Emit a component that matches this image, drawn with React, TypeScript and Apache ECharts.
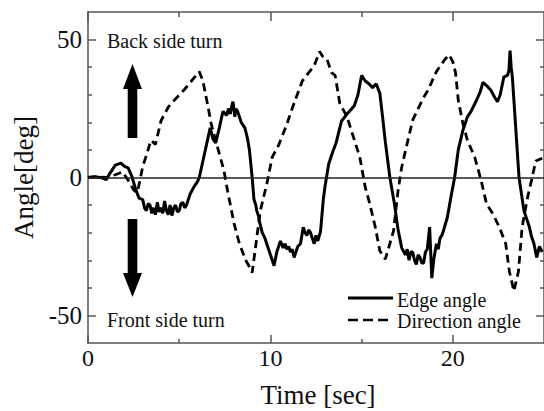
import React, { useEffect, useRef } from "react";
import * as echarts from "echarts";

const xTickLabels = [0, 10, 20];
const xMinorTicks = [5, 15];
const yTickLabels = [-50, 0, 50];
const yMinorTicks = [-40, -30, -20, -10, 10, 20, 30, 40];

const edgeT = [
  0, 0.4, 0.8, 1.0, 1.2, 1.5, 1.8, 2.0, 2.2, 2.4, 2.6, 2.8, 3.0, 3.1, 3.2, 3.3, 3.4, 3.5, 3.6, 3.7,
  3.8, 3.9, 4.0, 4.1, 4.2, 4.3, 4.4, 4.5, 4.6, 4.7, 4.8, 4.9, 5.0, 5.1, 5.2, 5.3, 5.4, 5.6, 5.8, 6.0,
  6.1, 6.3, 6.5, 6.7, 6.85, 7.0, 7.2, 7.4, 7.6, 7.7, 7.8, 7.9, 7.95, 8.05, 8.1, 8.2, 8.3, 8.4, 8.6, 8.75,
  8.85, 9.0, 9.1, 9.2, 9.25, 9.35, 9.4, 9.55, 9.7, 9.8, 9.9, 10.05, 10.2, 10.35, 10.45, 10.55, 10.7, 10.8, 10.9, 11.0,
  11.1, 11.2, 11.3, 11.4, 11.5, 11.65, 11.8, 11.9, 12.0, 12.1, 12.2, 12.3, 12.4, 12.5, 12.6, 12.75, 12.9, 13.0, 13.2, 13.4,
  13.6, 13.9, 14.2, 14.4, 14.6, 14.8, 15.0, 15.2, 15.4, 15.6, 15.8, 16.0, 16.15, 16.3, 16.55, 16.8, 17.0, 17.2, 17.4, 17.5,
  17.6, 17.7, 17.8, 17.9, 18.0, 18.1, 18.2, 18.3, 18.4, 18.5, 18.6, 18.73, 18.85, 18.95, 19.1, 19.2, 19.3, 19.4, 19.5, 19.7,
  19.9, 20.1, 20.3, 20.55, 20.8, 21.0, 21.3, 21.5, 21.65, 21.9, 22.1, 22.3, 22.45, 22.6, 22.8, 23.0, 23.08, 23.14, 23.2, 23.27,
  23.45, 23.63, 23.9, 24.1, 24.2, 24.3, 24.45, 24.6, 24.75, 24.9,
];
const edgeV = [
  0, 0.3, -0.2, -0.8, 1.5, 4.5, 5.2, 4, 3.5, 0.5, -4, -7.5, -8, -11, -12, -9.5, -10, -13, -11, -13.5,
  -9, -12.5, -11, -13, -8.5, -12, -13.5, -10, -13.8, -11, -10, -12.5, -12, -9.5, -9, -11, -10, -6, -3.5, -1.5,
  0, 6, 12, 18, 14, 12.5, 18, 24, 22.5, 25, 23, 26.5, 27.5, 22, 25, 24, 22, 20, 18, 14,
  10, 0, -8, -10, -12, -14, -16, -20, -22, -24, -26, -29, -32, -27, -25, -23, -25.5, -24, -26, -25,
  -27, -26, -29, -27, -25, -24, -18, -20, -21, -19, -20, -22, -24, -21, -23, -19.5, -8, -3, 5, 9,
  12.5, 20.5, 23, 24.5, 26, 30, 37, 35, 34, 32.5, 34, 30.5, 22, 13, 0, -9.5, -19, -25.5, -28, -26,
  -30, -27, -27, -30, -31.5, -28, -29, -31, -31, -27, -26, -18, -36.5, -30, -24, -26, -22, -21, -19, -14.5,
  -7, 0, 10, 17, 22, 24, 28, 31, 34.5, 33, 31.5, 29, 27.5, 30, 36.5, 37, 39, 46, 40, 36,
  18, 0, -12, -16, -18, -21, -24, -29, -25, -27,
];

const dirT = [
  0, 0.5, 1.0, 1.5, 1.9, 2.2, 2.5, 2.7, 2.85, 3.0, 3.2, 3.45, 3.7, 4.0, 4.4, 4.8, 5.3, 5.8, 6.1, 6.3,
  6.45, 6.6, 6.75, 7.1, 7.45, 7.65, 8.0, 8.3, 8.65, 8.9, 9.0, 9.15, 9.45, 9.8, 10.1, 10.45, 10.85, 11.3, 11.75, 12.1,
  12.4, 12.7, 12.85, 13.1, 13.35, 13.55, 13.8, 14.2, 14.55, 14.9, 15.2, 15.45, 15.75, 16.0, 16.3, 16.55, 16.75, 17.0, 17.2, 17.45,
  17.8, 18.1, 18.4, 18.65, 19.1, 19.55, 19.8, 20.0, 20.15, 20.3, 20.55, 20.8, 21.2, 21.55, 21.85, 22.2, 22.55, 22.9, 23.1, 23.35,
  23.6, 23.8, 24.1, 24.35, 24.55, 24.9,
];
const dirV = [
  0, 0.3, 0, 1, 2, -1, -4.5, -5.5, -1, 4, 8, 13.5, 12, 20.5, 25.5, 28.5, 32, 36, 38.4, 35,
  30, 25, 19.5, 11, 2.6, -4.7, -16.5, -24, -30, -33, -34.5, -27, -12, -2.4, 7.4, 11.7, 18.4, 27, 35, 38,
  40.5, 45.7, 44, 43, 38, 37, 27, 22, 14.7, 7.4, -3.5, -9.6, -18, -26.6, -29.6, -24, -19.4, -4.7, 3.8, 11,
  20.8, 25, 29, 31.8, 38.4, 42.7, 44.5, 42, 38, 28, 19.7, 13.5, 7.4, -1, -9.6, -13.2, -18, -24, -34, -41.2,
  -34, -18, -7.2, 0, 6, 7,
];

const SERIF = "Liberation Serif";
const AXIS_COLOR = "#555";

export default function App() {
  const ref = useRef<HTMLDivElement>(null);

  useEffect(() => {
    if (!ref.current) return;
    const chart = echarts.init(ref.current, undefined, { renderer: "svg" });

    const edgeData = edgeT.map((t, i) => [t, edgeV[i]]);
    const dirData = dirT.map((t, i) => [t, dirV[i]]);

    const xBase = { type: "value", min: 0, max: 25, splitLine: { show: false } };
    const yBase = { type: "value", min: -60, max: 60, splitLine: { show: false } };
    const line = { show: true, onZero: false, lineStyle: { color: AXIS_COLOR, width: 1.5 } };
    const noLine = { show: false, onZero: false };
    const tickStyle = { color: AXIS_COLOR, width: 1.5 };
    const txt = (text: string, x: number, y: number, size: number, align: string, extra: any = {}) => ({
      type: "text",
      x,
      y,
      ...extra,
      style: { text, font: `${size}px "Liberation Serif"`, fill: "#111", align, verticalAlign: "middle" },
    });

    const option: any = {
      animation: false,
      textStyle: { fontFamily: SERIF },
      grid: { left: 88, right: -3, top: 12, bottom: 68, containLabel: false },
      xAxis: [
        {
          ...xBase,
          position: "bottom",
          axisLine: line,
          axisTick: { show: true, inside: true, length: 8, customValues: xTickLabels, lineStyle: tickStyle },
          axisLabel: { show: true, customValues: xTickLabels, margin: 3, fontSize: 24, fontFamily: SERIF, color: "#111" },
        },
        {
          ...xBase,
          position: "bottom",
          axisLine: noLine,
          axisTick: { show: true, inside: true, length: 4, customValues: xMinorTicks, lineStyle: tickStyle },
          axisLabel: { show: false },
        },
        {
          ...xBase,
          position: "top",
          axisLine: line,
          axisTick: { show: true, inside: true, length: 9, customValues: xTickLabels, lineStyle: tickStyle },
          axisLabel: { show: false },
        },
        {
          ...xBase,
          position: "top",
          axisLine: noLine,
          axisTick: { show: true, inside: true, length: 5, customValues: xMinorTicks, lineStyle: tickStyle },
          axisLabel: { show: false },
        },
      ],
      yAxis: [
        {
          ...yBase,
          position: "left",
          name: "Angle[deg]",
          nameLocation: "middle",
          nameRotate: 90,
          nameGap: 64,
          nameTextStyle: { fontSize: 27, fontFamily: SERIF, color: "#111", verticalAlign: "middle" },
          axisLine: line,
          axisTick: { show: true, inside: true, length: 8, customValues: [-50, 50], lineStyle: tickStyle },
          axisLabel: { show: true, customValues: yTickLabels, margin: 6, fontSize: 25, fontFamily: SERIF, color: "#111" },
        },
        {
          ...yBase,
          position: "left",
          axisLine: noLine,
          axisTick: { show: true, inside: true, length: 4, customValues: yMinorTicks, lineStyle: tickStyle },
          axisLabel: { show: false },
        },
        {
          ...yBase,
          position: "right",
          axisLine: line,
          axisTick: { show: true, inside: true, length: 8, customValues: [-50, 50], lineStyle: tickStyle },
          axisLabel: { show: false },
        },
        {
          ...yBase,
          position: "right",
          axisLine: noLine,
          axisTick: { show: true, inside: true, length: 4, customValues: yMinorTicks, lineStyle: tickStyle },
          axisLabel: { show: false },
        },
      ],
      series: [
        {
          name: "Edge angle",
          type: "line",
          xAxisIndex: 0,
          yAxisIndex: 0,
          data: edgeData,
          showSymbol: false,
          symbol: "none",
          lineStyle: { color: "#000", width: 3 },
          z: 3,
          markLine: {
            silent: true,
            symbol: "none",
            label: { show: false },
            lineStyle: { color: "#222", width: 1.5, type: "solid" },
            data: [{ yAxis: 0 }],
          },
        },
        {
          name: "Direction angle",
          type: "line",
          xAxisIndex: 0,
          yAxisIndex: 0,
          data: dirData,
          showSymbol: false,
          symbol: "none",
          lineStyle: { color: "#000", width: 2.8, type: [8, 5] },
          z: 2,
        },
      ],
      graphic: [
        {
          type: "polygon",
          shape: { points: [[132.5, 64], [142, 89], [137.3, 89], [137.3, 138], [127.7, 138], [127.7, 89], [123, 89]] },
          style: { fill: "#000" },
        },
        {
          type: "polygon",
          shape: { points: [[132.5, 297], [142, 273], [137.3, 273], [137.3, 219], [127.7, 219], [127.7, 273], [123, 273]] },
          style: { fill: "#000" },
        },
        txt("Back side turn", 107, 41, 20, "left"),
        txt("Front side turn", 107, 320, 20, "left"),
        txt("Time [sec]", 318, 395, 27, "center"),
        {
          type: "line",
          shape: { x1: 348, y1: 298, x2: 393, y2: 298 },
          style: { stroke: "#000", lineWidth: 2.8 },
        },
        {
          type: "line",
          shape: { x1: 348, y1: 320, x2: 393, y2: 320 },
          style: { stroke: "#000", lineWidth: 2.6, lineDash: [10, 5] },
        },
        txt("Edge angle", 397, 300, 20, "left"),
        txt("Direction angle", 397, 321, 20, "left"),
      ],
    };

    chart.setOption(option);
    return () => chart.dispose();
  }, []);

  return (
    <div style={{ position: "fixed", left: 0, top: 0, width: 544, height: 411, overflow: "hidden", background: "#fff" }}>
      <div ref={ref} style={{ width: 544, height: 411 }} />
    </div>
  );
}
